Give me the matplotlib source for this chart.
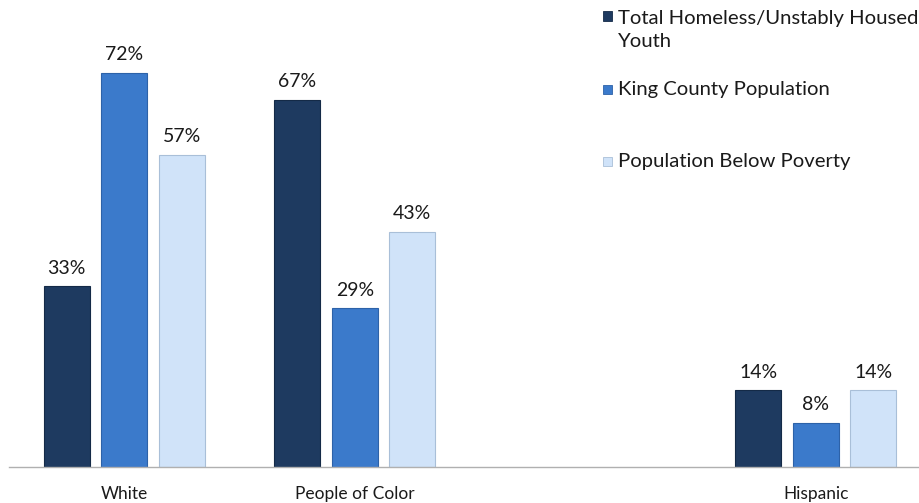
import matplotlib.pyplot as plt
from matplotlib.patches import Rectangle
import numpy as np

plt.rcParams['font.family'] = ['Lato', 'DejaVu Sans']

categories = ['White', 'People of Color', '', 'Hispanic']
series = ['Total Homeless/Unstably Housed\nYouth', 'King County Population', 'Population Below Poverty']
homeless = [33, 67, None, 14]
king_county = [72, 29, None, 8]
below_poverty = [57, 43, None, 14]

colors = ['#1e3a60', '#3b7acb', '#d0e3f9']
edges = ['#142a47', '#2d62a8', '#a9bfd8']

W, H = 920, 503
fig = plt.figure(figsize=(W / 100, H / 100), dpi=100)
ax = fig.add_axes([9 / W, 36 / H, 922 / W, 467 / H])

x = np.arange(len(categories))
width = 0.2
offsets = [-0.25, 0, 0.25]
for vals, off, c, ec in zip([homeless, king_county, below_poverty], offsets, colors, edges):
    idx = [i for i, v in enumerate(vals) if v is not None]
    hv = [vals[i] for i in idx]
    bars = ax.bar(x[idx] + off, hv, width, color=c, edgecolor=ec, linewidth=0.8)
    for b, v in zip(bars, hv):
        ax.annotate(f'{v}%', (b.get_x() + b.get_width() / 2, v), xytext=(0, 7),
                    textcoords='offset points', ha='center', va='bottom',
                    fontsize=14, color='#1a1a1a')

ax.set_xlim(-0.5, 3.5)
ax.set_ylim(0, 85.3)
ax.set_xticks(x)
ax.set_xticklabels(categories, fontsize=12.5, color='#1a1a1a')
ax.tick_params(axis='x', length=0, pad=13.5)
ax.set_yticks([])
for s in ['top', 'left', 'right']:
    ax.spines[s].set_visible(False)
ax.spines['bottom'].set_color('#b0b0b0')
ax.spines['bottom'].set_linewidth(1)

# legend: one entry per series, stacked down the top right corner
legend_y = [30, 89.5, 161.5]
marker_y = [16, 89, 161]
for lab, c, ec, ty, my in zip(series, colors, edges, legend_y, marker_y):
    fig.add_artist(Rectangle((603 / W, 1 - (my + 4.5) / H), 9 / W, 9 / H,
                             facecolor=c, edgecolor=ec, linewidth=0.6,
                             transform=fig.transFigure))
    fig.text(618 / W, 1 - ty / H, lab, ha='left', va='center', fontsize=14.6,
             color='#1a1a1a', linespacing=1.45)

fig.savefig('out.png', dpi=100)
